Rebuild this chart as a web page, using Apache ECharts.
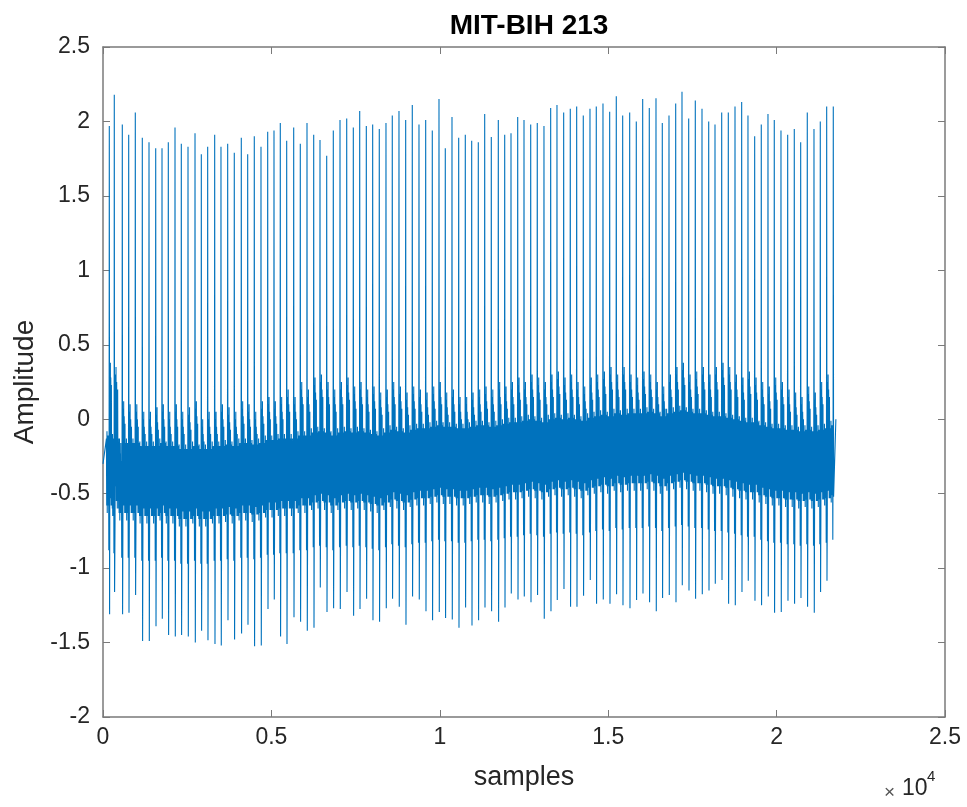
<!DOCTYPE html>
<html>
<head>
<meta charset="utf-8">
<script src="https://cdn.jsdelivr.net/npm/echarts@6/dist/echarts.min.js"></script>
<style>
  html, body { margin: 0; padding: 0; background: #fff; }
  #chart { width: 967px; height: 807px; }
</style>
</head>
<body>
<div id="chart"></div>
<script>
// MIT-BIH record 213, per-beat landmarks (sample index of each R wave and amplitudes)
const beatSamples = [
  187, 335, 573, 763, 959, 1167, 1366, 1565, 1752, 1939, 2138, 2325, 2524, 2732, 2919, 3108, 3316, 3503, 3702, 3898, 4106, 4296, 4492, 4691, 4890, 5077, 5264,
  5454, 5662, 5858, 6057, 6256, 6443, 6642, 6838, 7037, 7236, 7432, 7622, 7818, 8007, 8203, 8402, 8589, 8788, 8987, 9183, 9382, 9581, 9777, 9976, 10163, 10362, 10561,
  10757, 10947, 11143, 11333, 11529, 11737, 11927, 12114, 12313, 12500, 12699, 12894, 13093, 13292, 13479, 13678, 13874, 14064, 14260, 14459, 14646, 14845, 15044, 15240, 15430, 15638,
  15834, 16024, 16220, 16419, 16606, 16805, 17004, 17191, 17390, 17586, 17785, 17984, 18171, 18370, 18566, 18765, 18963, 19150, 19349, 19545, 19744, 19931, 20130, 20329, 20525, 20715, 20911, 21110, 21297, 21487, 21683
];
const rPeak = [
  1.97, 2.18, 1.98, 1.91, 2.06, 1.89, 1.86, 1.82, 1.82, 1.86, 1.96, 1.85, 1.83, 1.92, 1.78, 1.83, 1.91, 1.83, 1.85, 1.79, 1.89, 1.78, 1.90, 1.83, 1.93, 1.94, 1.99,
  1.87, 1.96, 1.85, 1.99, 1.91, 1.875, 1.77, 1.94, 2.01, 2.02, 1.96, 2.07, 1.97, 1.98, 1.95, 1.99, 2.04, 2.07, 2.01, 2.11, 1.98, 2.01, 1.94, 2.15, 1.82, 2.03, 1.89,
  1.91, 1.87, 1.86, 2.05, 1.895, 2.01, 1.91, 1.92, 2.03, 2.01, 1.98, 1.99, 1.97, 2.09, 2.11, 2.06, 2.085, 2.10, 2.04, 2.085, 2.10, 2.12, 2.065, 2.17, 2.04, 2.06,
  2.00, 2.15, 2.09, 2.155, 1.99, 2.04, 2.12, 2.20, 2.02, 2.14, 2.085, 2.00, 1.98, 2.06, 2.06, 2.10, 2.13, 2.04, 1.90, 1.98, 2.05, 2.01, 1.94, 1.91, 1.95, 1.86, 2.06, 1.95, 2.00, 2.10, 2.10
];
const sTrough = [
  -1.31, -1.16, -1.31, -1.30, -1.18, -1.49, -1.49, -1.39, -1.34, -1.45, -1.46, -1.45, -1.46, -1.50, -1.42, -1.485, -1.51, -1.52, -1.35, -1.48, -1.44, -1.38, -1.525, -1.52, -1.275, -1.21, -1.46,
  -1.51, -1.33, -1.36, -1.42, -1.40, -1.13, -1.295, -1.27, -1.275, -1.16, -1.32, -1.275, -1.205, -1.35, -1.36, -1.27, -1.205, -1.26, -1.38, -1.19, -1.21, -1.29, -1.35, -1.295, -1.335, -1.345, -1.40,
  -1.265, -1.385, -1.35, -1.265, -1.29, -1.36, -1.265, -1.17, -1.21, -1.19, -1.23, -1.18, -1.34, -1.29, -1.215, -1.14, -1.26, -1.26, -1.185, -1.08, -1.24, -1.21, -1.24, -1.175, -1.25, -1.27,
  -1.215, -1.17, -1.23, -1.29, -1.20, -1.18, -1.23, -1.115, -1.15, -1.205, -1.175, -1.15, -1.105, -1.08, -1.24, -1.25, -1.16, -1.085, -1.22, -1.25, -1.19, -1.30, -1.295, -1.22, -1.24, -1.20, -1.26, -1.30, -1.16, -1.085, -0.52
];
// T-wave crest (upper edge of the band between spikes)
const tWave = [
  0.38, 0.35, 0.12, 0.10, 0.10, 0.05, 0.05, 0.08, 0.10, 0.05, 0.10, 0.05, 0.08, 0.12, 0.00, 0.05, 0.05, 0.10, 0.08, 0.05, 0.12, 0.10, 0.05, 0.12, 0.15, 0.12, 0.15,
  0.20, 0.15, 0.25, 0.20, 0.28, 0.30, 0.25, 0.20, 0.25, 0.28, 0.22, 0.25, 0.20, 0.22, 0.18, 0.20, 0.25, 0.22, 0.18, 0.22, 0.20, 0.18, 0.22, 0.25, 0.18, 0.20, 0.15,
  0.15, 0.18, 0.20, 0.22, 0.20, 0.25, 0.22, 0.25, 0.28, 0.25, 0.30, 0.28, 0.25, 0.30, 0.32, 0.28, 0.30, 0.25, 0.22, 0.28, 0.30, 0.32, 0.35, 0.30, 0.35, 0.30,
  0.28, 0.32, 0.30, 0.25, 0.22, 0.30, 0.35, 0.38, 0.30, 0.32, 0.35, 0.30, 0.35, 0.38, 0.35, 0.30, 0.28, 0.32, 0.28, 0.25, 0.22, 0.28, 0.25, 0.20, 0.18, 0.15, 0.22, 0.18, 0.25, 0.30, 0.38
];
// isoelectric level around each beat (centre of the dense band)
const baseline = [
  -0.33, -0.35, -0.38, -0.38, -0.38, -0.40, -0.40, -0.40, -0.38, -0.40, -0.40, -0.42, -0.42, -0.40, -0.42, -0.42, -0.40, -0.40, -0.39, -0.40, -0.38, -0.38, -0.39, -0.38, -0.36, -0.36, -0.35,
  -0.35, -0.35, -0.33, -0.33, -0.31, -0.30, -0.31, -0.33, -0.31, -0.30, -0.31, -0.30, -0.31, -0.32, -0.33, -0.31, -0.29, -0.30, -0.31, -0.29, -0.28, -0.28, -0.27, -0.26, -0.27, -0.27, -0.28,
  -0.28, -0.27, -0.26, -0.26, -0.27, -0.26, -0.25, -0.24, -0.24, -0.23, -0.22, -0.23, -0.24, -0.22, -0.21, -0.22, -0.21, -0.22, -0.23, -0.21, -0.20, -0.19, -0.20, -0.18, -0.19, -0.18,
  -0.18, -0.18, -0.17, -0.18, -0.20, -0.18, -0.17, -0.16, -0.17, -0.18, -0.18, -0.19, -0.20, -0.20, -0.21, -0.22, -0.23, -0.24, -0.24, -0.26, -0.27, -0.28, -0.28, -0.29, -0.29, -0.30, -0.29, -0.30, -0.29, -0.28, -0.26
];
// first and last recorded samples
const startSample = [0, -0.30];
const endSample = [21760, 0.0];

const xTicks = [0, 5000, 10000, 15000, 20000, 25000];
const yTicks = [-2, -1.5, -1, -0.5, 0, 0.5, 1, 1.5, 2, 2.5];

// Beat morphology: [sample offset from R at a 195-sample RR, level key, delta].
// 'b' = baseline, 't' = T-wave crest.
const morphBefore = [
  [-85, 'b', 0.20], [-77, 'b', -0.25], [-69, 'b', 0.25], [-61, 'b', -0.30], [-53, 'b', 0.15],
  [-45, 'b', -0.25], [-37, 'b', 0.22], [-29, 'b', -0.25], [-21, 'b', 0.10], [-14, 'b', -0.55], [-6, 'b', 0.10]
];
const morphAfter = [
  [18, 'b', -0.35], [26, 't', -0.05], [34, 'b', -0.10], [42, 't', 0], [50, 'b', -0.20],
  [58, 't', -0.10], [66, 'b', 0.20], [74, 'b', -0.25], [82, 't', -0.15], [90, 'b', -0.20],
  [98, 'b', 0.22], [106, 'b', -0.25]
];

function level(key, delta, i) {
  return (key === 't' ? tWave[i] : baseline[i]) + delta;
}

function buildTrace() {
  const pts = [startSample];
  const n = beatSamples.length;
  for (let i = 0; i < n; i++) {
    const r = beatSamples[i];
    const prevRR = i > 0 ? r - beatSamples[i - 1] : 195;
    const nextRR = i < n - 1 ? beatSamples[i + 1] - r : 195;
    const kb = Math.min(prevRR, 240) / 195;
    const ka = Math.min(nextRR, 240) / 195;
    morphBefore.forEach(([off, key, d]) => {
      const x = r + off * kb;
      if (x > 0) pts.push([x, level(key, d, i)]);
    });
    pts.push([r, rPeak[i]]);
    pts.push([r + 9, sTrough[i]]);
    if (i === n - 1) break;
    morphAfter.forEach(([off, key, d]) => pts.push([r + off * ka, level(key, d, i)]));
  }
  pts.push(endSample);
  return pts;
}

const chart = echarts.init(document.getElementById('chart'), null, { renderer: 'canvas' });
const axisGray = '#7a7a7a';
const labelColor = '#262626';
const font = '"Liberation Sans", Arial, Helvetica, sans-serif';

const grid = { left: 103, top: 47, width: 842, height: 670 };

function xAxisDef(pos, show) {
  return {
    type: 'value', position: pos, min: xTicks[0], max: xTicks[xTicks.length - 1], interval: 5000,
    axisLine: { show: true, onZero: false, lineStyle: { color: axisGray, width: 1.5 } },
    axisTick: { show: true, inside: true, length: 7, lineStyle: { color: axisGray, width: 1 } },
    axisLabel: {
      show: show, margin: 9, color: labelColor, fontSize: 23, fontFamily: font,
      formatter: v => String(v / 10000)
    },
    splitLine: { show: false }
  };
}
function yAxisDef(pos, show) {
  return {
    type: 'value', position: pos, min: yTicks[0], max: yTicks[yTicks.length - 1], interval: 0.5,
    axisLine: { show: true, onZero: false, lineStyle: { color: axisGray, width: 1.5 } },
    axisTick: { show: true, inside: true, length: 7, lineStyle: { color: axisGray, width: 1 } },
    axisLabel: { show: show, margin: 13, color: labelColor, fontSize: 23, fontFamily: font },
    splitLine: { show: false }
  };
}

chart.setOption({
  animation: false,
  backgroundColor: '#fff',
  title: {
    text: 'MIT-BIH 213', left: 524, top: 7, textAlign: 'center',
    textStyle: { fontSize: 28, fontWeight: 'bold', color: '#000', fontFamily: font }
  },
  grid: grid,
  xAxis: [xAxisDef('bottom', true), xAxisDef('top', false)],
  yAxis: [yAxisDef('left', true), yAxisDef('right', false)],
  series: [{
    type: 'line', xAxisIndex: 0, yAxisIndex: 0,
    data: buildTrace(), showSymbol: false, symbol: 'none', sampling: null,
    lineStyle: { color: '#0072BD', width: 1.1 }, silent: true
  }],
  graphic: [
    { type: 'text', x: 524, y: 778, style: { text: 'samples', fontSize: 27, fontFamily: font, fill: labelColor, textAlign: 'center', textVerticalAlign: 'middle' } },
    { type: 'text', x: 25, y: 382, rotation: Math.PI / 2, style: { text: 'Amplitude', fontSize: 28, fontFamily: font, fill: labelColor, textAlign: 'center', textVerticalAlign: 'middle' } },
    { type: 'text', x: 884, y: 783, style: { text: '\u00d7', fontSize: 19, fontFamily: font, fill: '#555' } },
    { type: 'text', x: 902, y: 777, style: { text: '10', fontSize: 23, fontFamily: font, fill: labelColor } },
    { type: 'text', x: 927, y: 769, style: { text: '4', fontSize: 15, fontFamily: font, fill: labelColor } }
  ]
});
</script>
</body>
</html>
